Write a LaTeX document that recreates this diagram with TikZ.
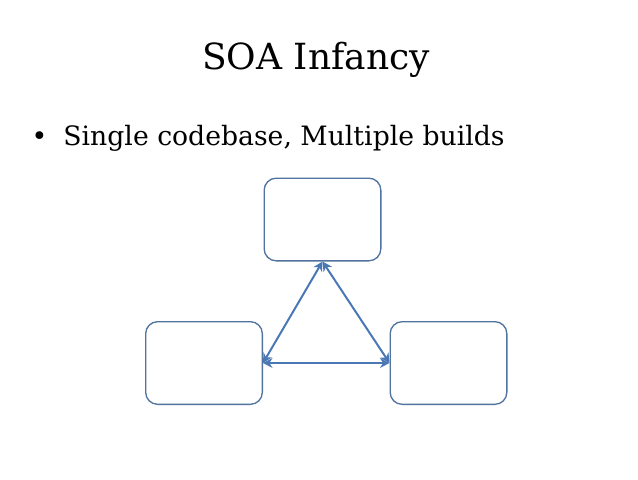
\documentclass[tikz,border=0pt]{standalone}
\usepackage{fontspec}
\setmainfont{DejaVu Serif}
\usepackage{xcolor}
\usetikzlibrary{arrows.meta,positioning}
\definecolor{boxline}{RGB}{80,115,160}
\definecolor{arrline}{RGB}{74,120,180}

\begin{document}
\begin{tikzpicture}[
  x=0.75pt,y=-0.75pt,
  hostbox/.style={draw=boxline,line width=1pt,rounded corners=9pt,fill=white,minimum width=87.5pt,minimum height=62pt},
  arr/.style={{Stealth[length=2.5mm,width=2.6mm]}-{Stealth[length=2.5mm,width=2.6mm]},line width=1.5pt,draw=arrline}
]
\useasboundingbox (0,0) rectangle (638,479);
\node[font=\fontsize{27}{32}\selectfont] (title) at (316,60) {SOA Infancy};
\node[anchor=base west,font=\fontsize{20}{24}\selectfont] (point) at (27,145) {\textbullet\hspace{12pt}Single codebase, Multiple builds};
\node[hostbox] (top) at (322.5,219.5) {};
\node[hostbox] (left) at (204,363) {};
\node[hostbox] (right) at (448.5,363) {};
\draw[arr] (top.south) -- (left.east);
\draw[arr] (top.south) -- (right.west);
\draw[arr] (left.east) -- (right.west);
\end{tikzpicture}
\end{document}
